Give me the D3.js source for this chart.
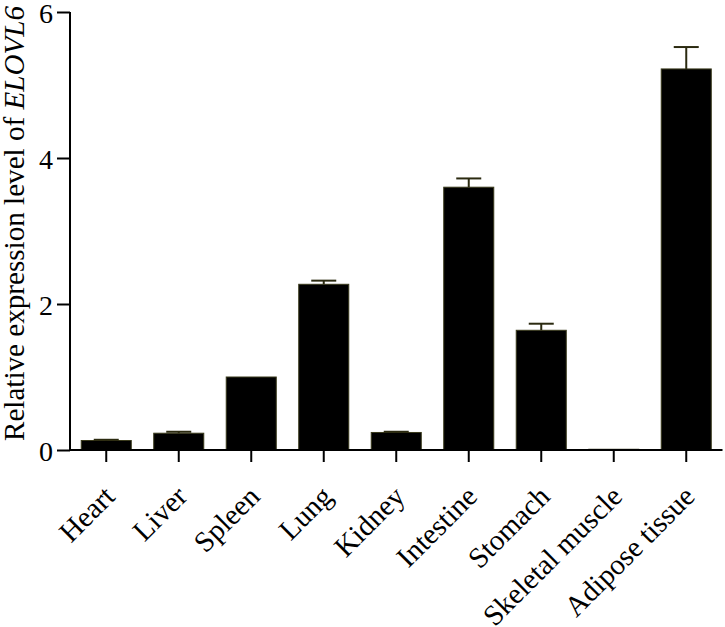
<!DOCTYPE html>
<html>
<head>
<meta charset="utf-8">
<script src="https://cdn.jsdelivr.net/npm/d3@7"></script>
<style>
  body { margin: 0; background: #fff; }
  svg text { font-family: "Liberation Serif", "Times New Roman", Times, serif; fill: #000; }
</style>
</head>
<body>
<svg id="chart" width="725" height="627"></svg>
<script>
// tissues and relative expression of ELOVL6
var tissues = ["Heart", "Liver", "Spleen", "Lung", "Kidney", "Intestine", "Stomach", "Skeletal muscle", "Adipose tissue"];
var means = [0.13, 0.23, 1.0, 2.27, 0.24, 3.60, 1.64, 0.01, 5.22];
var errors = [0.01, 0.02, 0.0, 0.05, 0.01, 0.12, 0.09, 0.0, 0.30];
var yTicks = [0, 2, 4, 6];

var svg = d3.select("#chart");
var mLeft = 70, mRight = 722.5, mTop = 12, mBottom = 450;

var x = d3.scaleBand().domain(tissues).range([mLeft, mRight]).paddingInner(0.31).paddingOuter(0.155);
var y = d3.scaleLinear().domain([0, 6]).range([mBottom, mTop]);

var data = tissues.map(function(t, i) { return { name: t, v: means[i], e: errors[i] }; });

// bars
svg.append("g").selectAll("rect")
    .data(data)
    .enter().append("rect")
    .attr("x", function(d) { return x(d.name); })
    .attr("y", function(d) { return y(d.v); })
    .attr("width", x.bandwidth())
    .attr("height", function(d) { return y(0) - y(d.v); })
    .attr("fill", "#000")
    .attr("stroke", "#3a3a1c")
    .attr("stroke-width", 1);

// error bars (upper only)
var eb = svg.append("g").selectAll("g")
    .data(data.filter(function(d) { return d.e > 0; }))
    .enter().append("g")
    .attr("stroke", "#2b2a10")
    .attr("stroke-width", 2);
eb.append("line")
    .attr("x1", function(d) { return x(d.name) + x.bandwidth() / 2; })
    .attr("x2", function(d) { return x(d.name) + x.bandwidth() / 2; })
    .attr("y1", function(d) { return y(d.v); })
    .attr("y2", function(d) { return y(d.v + d.e); });
eb.append("line")
    .attr("x1", function(d) { return x(d.name) + x.bandwidth() / 2 - 12.5; })
    .attr("x2", function(d) { return x(d.name) + x.bandwidth() / 2 + 12.5; })
    .attr("y1", function(d) { return y(d.v + d.e); })
    .attr("y2", function(d) { return y(d.v + d.e); });

// y axis
var yAxis = svg.append("g")
    .attr("transform", "translate(" + mLeft + ",0)")
    .call(d3.axisLeft(y).tickValues(yTicks).tickSize(13).tickPadding(4).tickFormat(d3.format("d")));
yAxis.select(".domain").attr("stroke", "#000").attr("stroke-width", 2).attr("d", "M0," + mTop + "V" + mBottom);
yAxis.selectAll(".tick line").attr("stroke", "#000").attr("stroke-width", 2);
yAxis.selectAll(".tick text").style("font-size", "28px").attr("dy", "0.36em");

// x axis
var xAxis = svg.append("g")
    .attr("transform", "translate(0," + mBottom + ")")
    .call(d3.axisBottom(x).tickSize(12).tickSizeOuter(0));
xAxis.select(".domain").attr("stroke", "#000").attr("stroke-width", 2).attr("d", "M" + mLeft + ",0H" + mRight);
xAxis.selectAll(".tick line").attr("stroke", "#000").attr("stroke-width", 2);
xAxis.selectAll(".tick text")
    .style("font-size", "29px")
    .attr("text-anchor", "end")
    .attr("transform", "translate(3,41) rotate(-45)")
    .attr("dy", "0.35em")
    .attr("y", 0);

// y title, sized so it runs from about y=442 up to y=5
var title = svg.append("text")
    .attr("transform", "translate(24,223.5) rotate(-90)")
    .attr("text-anchor", "middle")
    .style("font-size", "28px");
title.append("tspan").text("Relative expression level of ");
title.append("tspan").style("font-style", "italic").text("ELOVL6");
var len = title.node().getComputedTextLength();
if (len > 0) title.style("font-size", (28 * 435 / len).toFixed(2) + "px");
</script>
</body>
</html>
